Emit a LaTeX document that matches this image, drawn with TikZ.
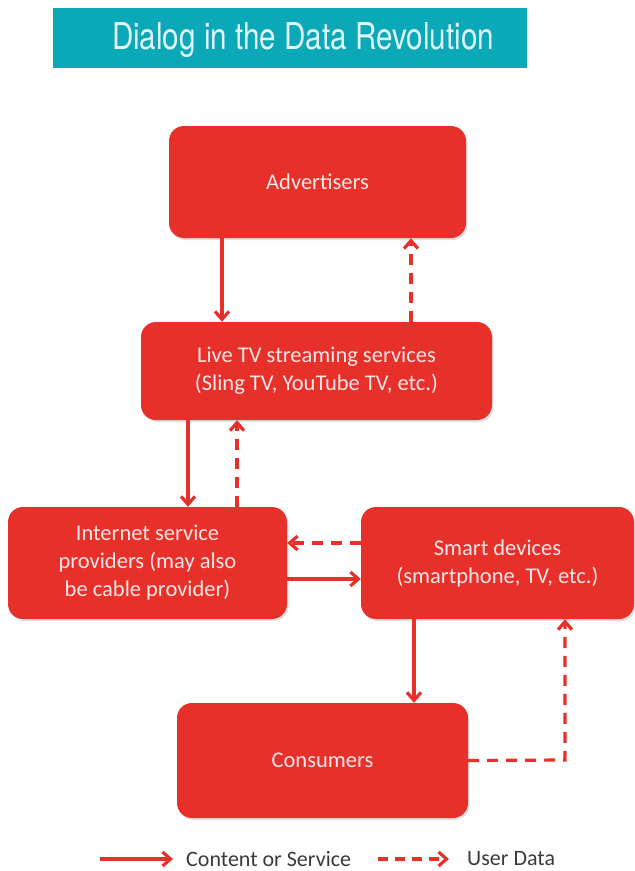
\documentclass[tikz,border=0pt]{standalone}
\usepackage{fontspec}
\usepackage{graphicx}
\setmainfont{Carlito}
\newfontfamily\titlefont{TeX Gyre Heros}
\usetikzlibrary{arrows.meta,shadows}
\definecolor{banner}{HTML}{0BA9B7}
\definecolor{boxred}{HTML}{E8302A}
\definecolor{legendgray}{HTML}{3A3A3A}
\tikzset{
  flowbox/.style={fill=boxred, draw=none, rounded corners=15pt, text=white!90!red,
    font=\fontsize{22.5}{28}\selectfont, align=center,
    drop shadow={opacity=0.25, shadow xshift=1.5pt, shadow yshift=-2pt}},
  content/.style={draw=boxred, line width=3.2pt, -{Straight Barb[length=8pt,width=14pt,line width=3.2pt]}},
  userdata/.style={content, dash pattern=on 11pt off 8pt},
  legendtext/.style={anchor=west, inner sep=0pt, text=legendgray, font=\fontsize{22}{24}\selectfont}
}
\begin{document}
\begin{tikzpicture}[x=1pt,y=-1pt]
\useasboundingbox (0,0) rectangle (635,871);
% title banner
\fill[banner] (53,8) rectangle (527,68);
\node[text=white!88!cyan] (title) at (303,40)
  {\scalebox{0.8}[1]{\titlefont\fontsize{37}{40}\selectfont Dialog in the Data Revolution}};
% boxes
\node[flowbox, minimum width=297pt, minimum height=112pt] (adv) at (317.5,182) {Advertisers};
\node[flowbox, minimum width=351pt, minimum height=98pt] (live) at (316.5,371)
  {Live TV streaming services\\(Sling TV, YouTube TV, etc.)};
\node[flowbox, minimum width=279pt, minimum height=112pt] (isp) at (147.5,563)
  {Internet service\\providers (may also\\be cable provider)};
\node[flowbox, minimum width=273pt, minimum height=112pt] (smart) at (497.5,563)
  {Smart devices\\(smartphone, TV, etc.)};
\node[flowbox, minimum width=291pt, minimum height=115pt] (cons) at (322.5,760.5) {Consumers};
% connectors
\draw[content] (adv.south -| 222,0) -- (live.north -| 222,0);
\draw[userdata] (live.north -| 411,0) -- (adv.south -| 411,0);
\draw[content] (live.south -| 188,0) -- (isp.north -| 188,0);
\draw[userdata] (isp.north -| 237,0) -- (live.south -| 237,0);
\draw[userdata] (smart.west |- 0,543) -- (isp.east |- 0,543);
\draw[content] (isp.east |- 0,579) -- (smart.west |- 0,579);
\draw[content] (smart.south -| 414,0) -- (cons.north -| 414,0);
\coordinate (bend) at (565,760);
\draw[userdata] (cons.east) -- (bend) -- (smart.south -| bend);
% legend
\coordinate (la) at (100,859);
\coordinate (lb) at (173,859);
\coordinate (lc) at (378,859);
\coordinate (ld) at (449,859);
\draw[content] (la) -- (lb);
\node[legendtext] (lcontent) at (186,859) {Content or Service};
\draw[userdata, dash pattern=on 10pt off 7pt] (lc) -- (ld);
\node[legendtext] (luser) at (467,859) {User Data};
\end{tikzpicture}
\end{document}
